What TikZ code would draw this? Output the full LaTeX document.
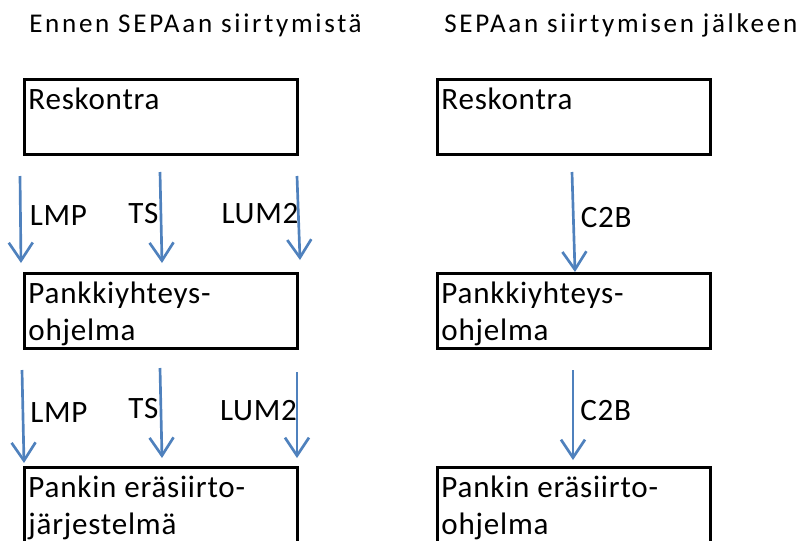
\documentclass[tikz,border=0pt]{standalone}
\usepackage{fontspec}
\setmainfont{Carlito}
\newfontfamily\headfamily[LetterSpace=10]{Carlito}
\newfontfamily\boxfamily[LetterSpace=2.5]{Carlito}
\usetikzlibrary{arrows.meta}
\definecolor{flowblue}{RGB}{79,129,189}
\newcommand{\boxfont}{\boxfamily\fontsize{23.3}{27.8}\selectfont}
\newcommand{\headfont}{\headfamily\fontsize{20.3}{24}\selectfont}
\begin{document}
\begin{tikzpicture}[x=0.75pt,y=-0.75pt,
    sysbox/.style={draw,line width=2.2pt,minimum width=205pt,minimum height=56.5pt,inner sep=0pt},
    boxtext/.style={anchor=north west,align=left,inner sep=0pt,xshift=4pt,yshift=-7pt,font=\boxfont},
    flow/.style={flowblue,line width=2pt,-{Straight Barb[length=13.5pt,width=18pt]}},
    flowlbl/.style={inner sep=0pt,text=black,font=\boxfont,yshift=3pt}]
    \useasboundingbox (0,0) rectangle (801,540);
    \clip (0,0) rectangle (801,540);
    % titles
    \node[anchor=base west,inner sep=0pt,font=\headfont] (headL) at (29,32) {Ennen SEPAan siirtymistä};
    \node[anchor=base west,inner sep=0pt,font=\headfont] (headR) at (444,32) {SEPAan siirtymisen jälkeen};
    % boxes before
    \node[sysbox,label={[boxtext]north west:Reskontra}] (resL) at (161,117) {};
    \node[sysbox,label={[boxtext]north west:Pankkiyhteys-\\ohjelma}] (pyoL) at (161,311) {};
    \node[sysbox,label={[boxtext]north west:Pankin eräsiirto-\\järjestelmä}] (bankL) at (161,505) {};
    % boxes after
    \node[sysbox,label={[boxtext]north west:Reskontra}] (resR) at (574,117) {};
    \node[sysbox,label={[boxtext]north west:Pankkiyhteys-\\ohjelma}] (pyoR) at (574,311) {};
    \node[sysbox,label={[boxtext]north west:Pankin eräsiirto-\\ohjelma}] (bankR) at (574,505) {};
    % arrow ends
    \coordinate (lmpA1) at (20,176);
    \coordinate (lmpB1) at (21,263);
    \coordinate (tsA1) at (160,172);
    \coordinate (tsB1) at (162,263);
    \coordinate (lumA1) at (297,176);
    \coordinate (lumB1) at (300,260);
    \coordinate (ctbA1) at (572,172);
    \coordinate (ctbB1) at (575,272);
    \coordinate (lmpA2) at (22,370);
    \coordinate (lmpB2) at (24,463);
    \coordinate (tsA2) at (160,368);
    \coordinate (tsB2) at (162,458);
    \coordinate (lumA2) at (297,372);
    \coordinate (lumB2) at (297,458);
    \coordinate (ctbA2) at (573,370);
    \coordinate (ctbB2) at (573,460);
    % transfers
    \draw[flow] (lmpA1) -- node[flowlbl,right=6pt] {LMP} (lmpB1);
    \draw[flow] (tsA1) -- node[flowlbl,left=1pt] {TS} (tsB1);
    \draw[flow] (lumA1) -- node[flowlbl,left=-1pt] {LUM2} (lumB1);
    \draw[flow] (ctbA1) -- node[flowlbl,right=4.5pt] {C2B} (ctbB1);
    \draw[flow] (lmpA2) -- node[flowlbl,right=4.5pt] {LMP} (lmpB2);
    \draw[flow] (tsA2) -- node[flowlbl,left=1pt] {TS} (tsB2);
    \draw[flow] (lumA2) -- node[flowlbl,left=-1pt] {LUM2} (lumB2);
    \draw[flow] (ctbA2) -- node[flowlbl,right=4.5pt] {C2B} (ctbB2);
\end{tikzpicture}
\end{document}
